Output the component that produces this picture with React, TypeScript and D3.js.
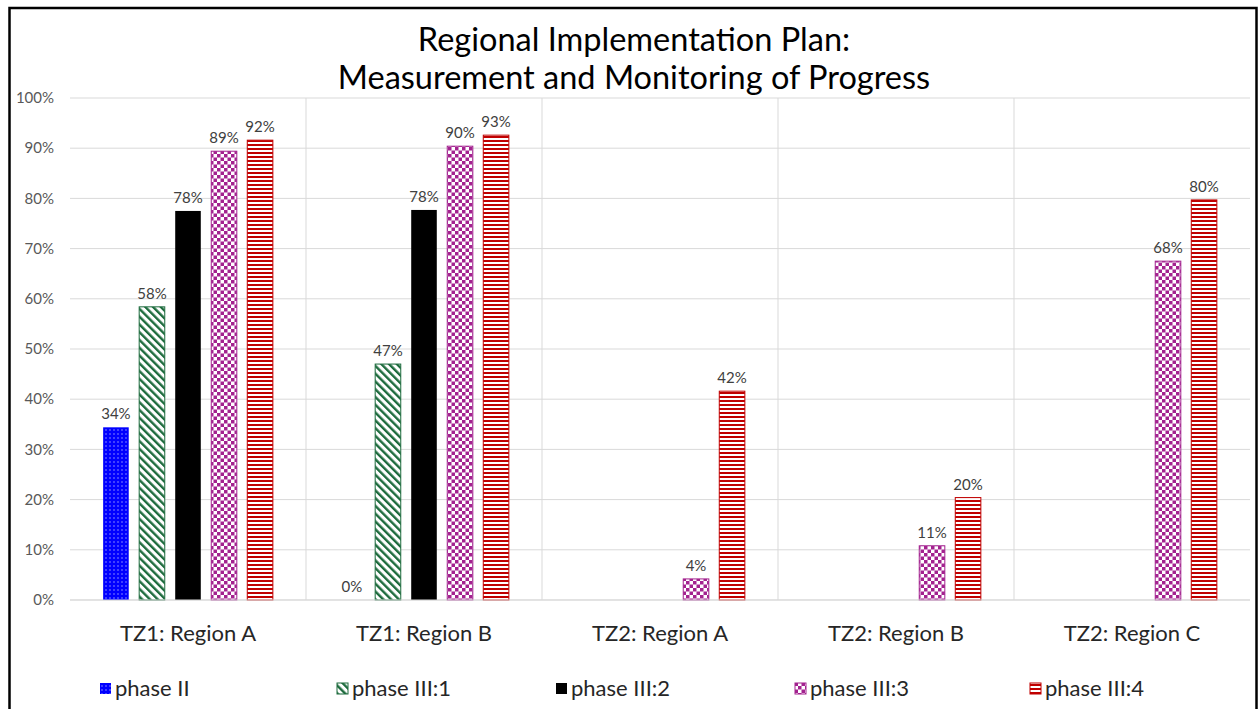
import { useEffect, useRef } from 'react'
import * as d3 from 'd3'

const categories = ['TZ1: Region A', 'TZ1: Region B', 'TZ2: Region A', 'TZ2: Region B', 'TZ2: Region C']
const seriesNames = ['phase II', 'phase III:1', 'phase III:2', 'phase III:3', 'phase III:4']
const phaseII = [34.4, 0, null, null, null]
const phaseIII1 = [58.4, 47, null, null, null]
const phaseIII2 = [77.5, 77.7, null, null, null]
const phaseIII3 = [89.4, 90.4, 4.2, 10.8, 67.5]
const phaseIII4 = [91.6, 92.6, 41.6, 20.4, 79.7]
const titleLines = ['Regional Implementation Plan:', 'Measurement and Monitoring of Progress']

const FONT = 'Lato, "Open Sans", sans-serif'

export default function App() {
  const ref = useRef<SVGSVGElement>(null)

  useEffect(() => {
    if (!ref.current) return
    const W = 1259
    const H = 709
    const svg = d3.select(ref.current)
    svg.selectAll('*').remove()
    svg.attr('width', W).attr('height', H)

    const series = [phaseII, phaseIII1, phaseIII2, phaseIII3, phaseIII4]
    const fills = ['url(#p-dots)', 'url(#p-diag)', '#000000', 'url(#p-check)', 'url(#p-hstripe)']
    const strokes = ['none', '#1d6b3d', 'none', '#a3228f', '#c00000']

    // motifs de remplissage
    const defs = svg.append('defs')
    const dots = defs.append('pattern').attr('id', 'p-dots').attr('patternUnits', 'userSpaceOnUse')
      .attr('width', 4).attr('height', 4)
    dots.append('rect').attr('width', 4).attr('height', 4).attr('fill', '#0000ff')
    dots.append('rect').attr('x', 1.5).attr('y', 1.5).attr('width', 1).attr('height', 1).attr('fill', '#ffffff')

    const diag = defs.append('pattern').attr('id', 'p-diag').attr('patternUnits', 'userSpaceOnUse')
      .attr('width', 5.5).attr('height', 5.5).attr('patternTransform', 'rotate(-45)')
    diag.append('rect').attr('width', 5.5).attr('height', 5.5).attr('fill', '#ffffff')
    diag.append('rect').attr('width', 2.4).attr('height', 5.5).attr('fill', '#1d6b3d')

    const check = defs.append('pattern').attr('id', 'p-check').attr('patternUnits', 'userSpaceOnUse')
      .attr('width', 7).attr('height', 7)
    check.append('rect').attr('width', 7).attr('height', 7).attr('fill', '#ffffff')
    check.append('rect').attr('width', 3.5).attr('height', 3.5).attr('fill', '#a3228f')
    check.append('rect').attr('x', 3.5).attr('y', 3.5).attr('width', 3.5).attr('height', 3.5).attr('fill', '#a3228f')

    const hs = defs.append('pattern').attr('id', 'p-hstripe').attr('patternUnits', 'userSpaceOnUse')
      .attr('width', 4).attr('height', 4)
    hs.append('rect').attr('width', 4).attr('height', 4).attr('fill', '#ffffff')
    hs.append('rect').attr('width', 4).attr('height', 2).attr('fill', '#c00000')

    svg.append('rect').attr('width', W).attr('height', H).attr('fill', '#ffffff')

    // Échelles
    const x0 = d3.scaleBand<string>().domain(categories).range([70, 1250])
    const x1 = d3.scaleBand<string>().domain(seriesNames).range([0, x0.bandwidth()])
      .paddingInner(0.29).paddingOuter(0.92)
    const y = d3.scaleLinear().domain([0, 100]).range([600, 98])

    // Grille
    const ticks = y.ticks(10)
    svg.selectAll('.grid').data(ticks).enter().append('line')
      .attr('x1', 70).attr('x2', 1250)
      .attr('y1', d => y(d)).attr('y2', d => y(d))
      .attr('stroke', '#d9d9d9').attr('stroke-width', 1)

    svg.selectAll('.vgrid').data(categories.slice(1)).enter().append('line')
      .attr('x1', d => x0(d)!).attr('x2', d => x0(d)!)
      .attr('y1', y(100)).attr('y2', y(0))
      .attr('stroke', '#d9d9d9').attr('stroke-width', 1)

    svg.selectAll('.ytick').data(ticks).enter().append('text')
      .attr('x', 54).attr('y', d => y(d)).attr('dy', '0.35em')
      .attr('text-anchor', 'end')
      .attr('fill', '#595959').style('font-size', '15px').style('font-family', FONT)
      .text(d => `${d}%`)

    // Barres
    series.forEach((vals, si) => {
      const g = svg.append('g')
      categories.forEach((c, ci) => {
        const v = vals[ci]
        if (v === null) return
        const bx = x0(c)! + x1(seriesNames[si])!
        const bw = x1.bandwidth()
        if (v > 0) {
          g.append('rect')
            .attr('x', bx).attr('y', y(v))
            .attr('width', bw).attr('height', y(0) - y(v))
            .attr('fill', fills[si])
            .attr('stroke', strokes[si]).attr('stroke-width', 1)
        }
        g.append('text')
          .attr('x', bx + bw / 2).attr('y', y(v) - 8)
          .attr('text-anchor', 'middle')
          .attr('fill', '#404040').style('font-size', '15px').style('font-family', FONT)
          .text(`${Math.round(v)}%`)
      })
    })

    svg.append('line').attr('x1', 70).attr('x2', 1250).attr('y1', y(0)).attr('y2', y(0))
      .attr('stroke', '#d9d9d9').attr('stroke-width', 1)

    // Libellés des catégories
    svg.selectAll('.cat').data(categories).enter().append('text')
      .attr('x', d => x0(d)! + x0.bandwidth() / 2).attr('y', 641)
      .attr('text-anchor', 'middle')
      .attr('fill', '#262626').style('font-size', '22px').style('font-family', FONT)
      .text(d => d)

    // Titre
    svg.selectAll('.title').data(titleLines).enter().append('text')
      .attr('x', 634).attr('y', (d, i) => 51 + i * 38)
      .attr('text-anchor', 'middle')
      .attr('fill', '#000000').style('font-size', '32.5px').style('font-family', FONT)
      .text(d => d)

    // Légende
    const legendX = [100, 337, 556, 795, 1030]
    const legend = svg.append('g')
    seriesNames.forEach((s, i) => {
      legend.append('rect')
        .attr('x', legendX[i]).attr('y', 683).attr('width', 11).attr('height', 11)
        .attr('fill', fills[i]).attr('stroke', strokes[i]).attr('stroke-width', 1)
      legend.append('text')
        .attr('x', legendX[i] + 15).attr('y', 696)
        .attr('fill', '#262626').style('font-size', '22px').style('font-family', FONT)
        .text(s)
    })

    // Cadre
    svg.append('rect').attr('x', 9.5).attr('y', 8).attr('width', 1247).attr('height', 720)
      .attr('fill', 'none').attr('stroke', '#000000').attr('stroke-width', 2.5)
  }, [])

  return <svg ref={ref} style={{ position: 'absolute', left: 0, top: 0, display: 'block' }} />
}
